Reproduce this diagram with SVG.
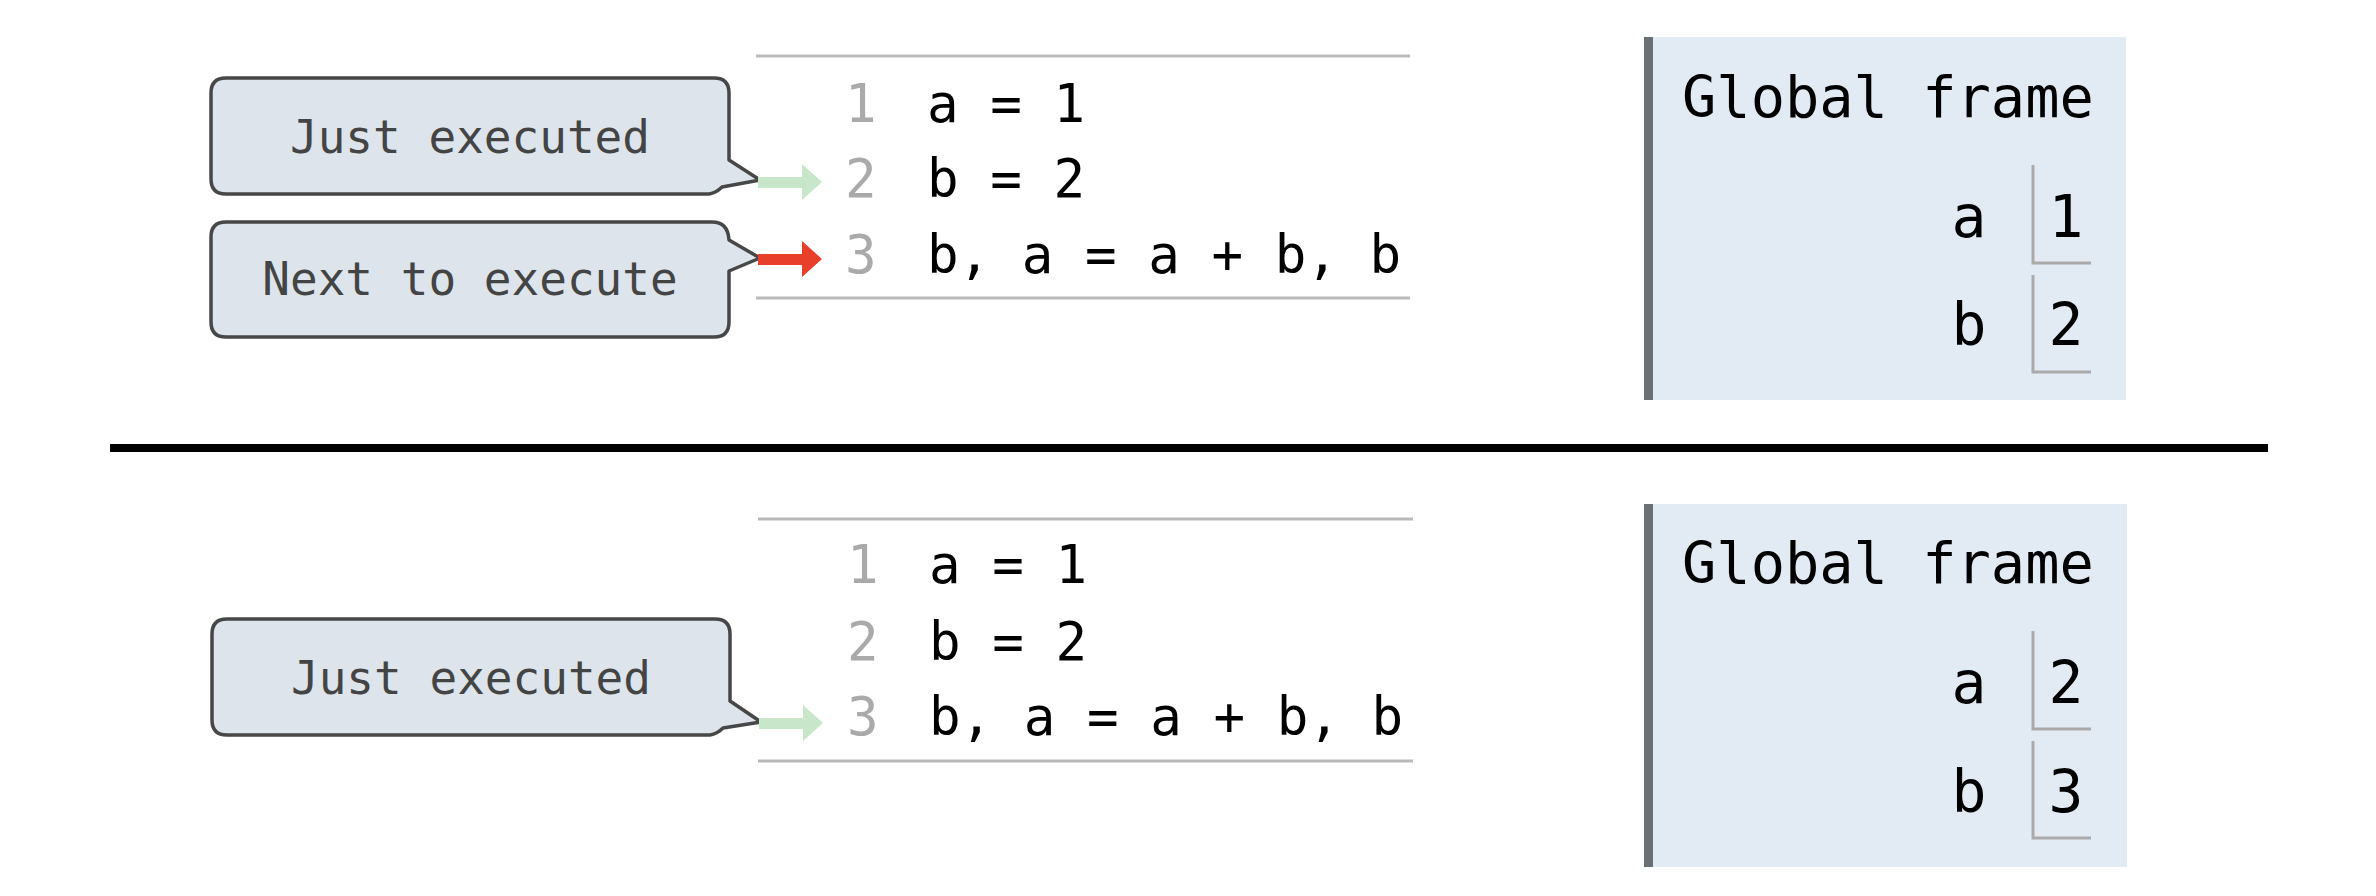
<svg xmlns="http://www.w3.org/2000/svg" width="2376" height="896" viewBox="0 0 2376 896">
<style>
.bubble{fill:#dde4ec;stroke:#474747;stroke-width:3.5;stroke-linejoin:round}
.btext{font-family:"DejaVu Sans Mono",monospace;font-size:46px;fill:#444;text-anchor:middle}
.lnum{font-family:"DejaVu Sans Mono",monospace;font-size:52.5px;fill:#aaa}
.code{font-family:"DejaVu Sans Mono",monospace;font-size:52.5px;fill:#000;white-space:pre}
.rule{stroke:#bbb;stroke-width:3}
.frame{fill:#e2eaf3}
.bar{fill:#6a7073}
.ftitle{font-family:"DejaVu Sans Mono",monospace;font-size:57px;fill:#000;white-space:pre}
.var{font-family:"DejaVu Sans Mono",monospace;font-size:58px;fill:#000;text-anchor:middle}
.vbox{fill:none;stroke:#aaa;stroke-width:3}
.green{fill:#c8e6c9}
.red{fill:#e83f2b}
</style>
<rect width="2376" height="896" fill="#fff"/>

<!-- top panel -->
<g id="code-top">
  <line class="rule" x1="756" y1="56" x2="1410" y2="56"/>
  <line class="rule" x1="756" y1="298" x2="1410" y2="298"/>
  <text class="lnum" x="845" y="122">1</text>
  <text class="lnum" x="845" y="197">2</text>
  <text class="lnum" x="845" y="273">3</text>
  <text class="code" x="927" y="122">a = 1</text>
  <text class="code" x="927" y="197">b = 2</text>
  <text class="code" x="927" y="273">b, a = a + b, b</text>
</g>
<g id="bubble-just-top">
  <path class="bubble" d="M226 78 H714 Q729 78 729 93 V160 L760 180 L722 187 Q716 193 709 194 H226 Q211 194 211 179 V93 Q211 78 226 78 Z"/>
  <text class="btext" x="470" y="153">Just executed</text>
</g>
<g id="bubble-next-top">
  <path class="bubble" d="M226 222 H712 Q728 222 729 240 L760 258 L729 271 V322 Q729 337 714 337 H226 Q211 337 211 322 V237 Q211 222 226 222 Z"/>
  <text class="btext" x="470" y="295">Next to execute</text>
</g>
<g id="frame-top">
  <rect class="frame" x="1644" y="37" width="482" height="363"/>
  <rect class="bar" x="1644" y="37" width="9" height="363"/>
  <text class="ftitle" x="1682" y="117">Global frame</text>
  <text class="var" x="1969" y="237">a</text>
  <polyline class="vbox" points="2033,165 2033,263 2091,263"/>
  <text class="var" x="2066" y="237">1</text>
  <text class="var" x="1969" y="345">b</text>
  <polyline class="vbox" points="2033,275 2033,372 2091,372"/>
  <text class="var" x="2066" y="345">2</text>
</g>

<rect id="divider" x="110" y="444" width="2158" height="8" fill="#000"/>

<!-- bottom panel -->
<g id="code-bottom">
  <line class="rule" x1="758" y1="519" x2="1413" y2="519"/>
  <line class="rule" x1="758" y1="761" x2="1413" y2="761"/>
  <text class="lnum" x="847" y="583">1</text>
  <text class="lnum" x="847" y="660">2</text>
  <text class="lnum" x="847" y="735">3</text>
  <text class="code" x="929" y="583">a = 1</text>
  <text class="code" x="929" y="660">b = 2</text>
  <text class="code" x="929" y="735">b, a = a + b, b</text>
</g>
<g id="bubble-just-bottom">
  <path class="bubble" d="M227 619 H715 Q730 619 730 634 V701 L761 722 L723 728 Q717 734 710 735 H227 Q212 735 212 720 V634 Q212 619 227 619 Z"/>
  <text class="btext" x="471" y="694">Just executed</text>
</g>
<g id="frame-bottom">
  <rect class="frame" x="1644" y="504" width="483" height="363"/>
  <rect class="bar" x="1644" y="504" width="9" height="363"/>
  <text class="ftitle" x="1682" y="583">Global frame</text>
  <text class="var" x="1969" y="703">a</text>
  <polyline class="vbox" points="2033,631 2033,729 2091,729"/>
  <text class="var" x="2066" y="703">2</text>
  <text class="var" x="1969" y="812">b</text>
  <polyline class="vbox" points="2033,741 2033,838 2091,838"/>
  <text class="var" x="2066" y="812">3</text>
</g>

<g id="connectors">
  <polygon class="green" points="758,177 802,177 802,164 822,182 802,200 802,188 758,188"/>
  <polygon class="red" points="758,254 802,254 802,241 822,259 802,277 802,265 758,265"/>
  <polygon class="green" points="759,718 803,718 803,705 823,723 803,741 803,729 759,729"/>
</g>
</svg>
